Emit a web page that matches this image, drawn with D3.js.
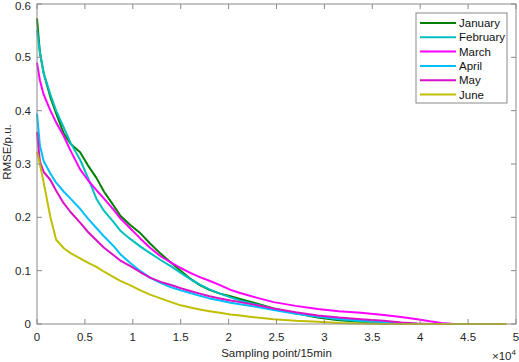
<!DOCTYPE html>
<html>
<head>
<meta charset="utf-8">
<script src="https://cdn.jsdelivr.net/npm/d3@7"></script>
<style>
body{margin:0;background:#fff;}
svg{display:block;font-family:"Liberation Sans",Arial,sans-serif;}
</style>
</head>
<body>
<div id="chart"></div>
<script>
(function(){

// sampling point (x 10^4)
const xs = [0,0.03,0.07,0.14,0.2,0.28,0.35,0.45,0.53,0.62,0.7,0.8,0.87,0.97,1.08,1.18,1.29,1.4,1.5,1.6,1.7,1.8,1.91,2.02,2.12,2.3,2.47,2.7,2.93,3.15,3.38,3.62,3.8,3.97,4.1,4.22,4.35,4.5,4.9];

const months = ["January","February","March","April","May","June"];
const colors = ["#008000","#00bfbf","#ff00ff","#00bfff","#dc10c8","#bfbf00"];

const january  = [0.573,0.51,0.47,0.425,0.395,0.357,0.338,0.322,0.298,0.274,0.248,0.222,0.203,0.186,0.17,0.151,0.132,0.115,0.1,0.085,0.073,0.064,0.057,0.052,0.047,0.038,0.029,0.02,0.012,0.007,0.004,0.001,0,0,0,0,0,0,null];
const february = [0.551,0.51,0.47,0.43,0.4,0.368,0.34,0.308,0.275,0.235,0.212,0.191,0.175,0.16,0.145,0.133,0.12,0.108,0.096,0.084,0.074,0.065,0.057,0.05,0.044,0.036,0.028,0.02,0.014,0.009,0.005,0.002,0,0,0,0,0,0,null];
const march    = [0.49,0.457,0.43,0.4,0.378,0.352,0.325,0.29,0.27,0.251,0.235,0.214,0.198,0.18,0.16,0.143,0.127,0.115,0.105,0.096,0.088,0.081,0.073,0.064,0.058,0.049,0.041,0.034,0.028,0.024,0.021,0.017,0.013,0.009,0.005,0.002,0,0,null];
const april    = [0.395,0.335,0.305,0.282,0.265,0.248,0.235,0.216,0.198,0.18,0.164,0.146,0.131,0.115,0.099,0.087,0.077,0.069,0.063,0.058,0.053,0.048,0.044,0.04,0.037,0.032,0.026,0.019,0.014,0.01,0.007,0.004,0.002,0,0,0,0,0,null];
const may      = [0.36,0.305,0.285,0.27,0.25,0.226,0.21,0.19,0.173,0.157,0.143,0.129,0.119,0.109,0.097,0.087,0.079,0.073,0.067,0.062,0.057,0.052,0.048,0.044,0.041,0.035,0.029,0.022,0.016,0.012,0.009,0.006,0.003,0.001,0,0,0,0,null];
const june     = [0.323,0.3,0.265,0.2,0.158,0.142,0.133,0.123,0.115,0.107,0.098,0.088,0.081,0.073,0.063,0.055,0.048,0.041,0.035,0.031,0.027,0.024,0.021,0.018,0.016,0.012,0.009,0.006,0.004,0.002,0.001,0,0,0,0,0,0,0,0];

const series = [january,february,march,april,may,june];

const xTicks = [0,0.5,1,1.5,2,2.5,3,3.5,4,4.5,5];
const yTicks = [0,0.1,0.2,0.3,0.4,0.5,0.6];

const width = 519, height = 362;
const left = 37, right = 516, top = 4, bottom = 324;

const svg = d3.select("#chart").append("svg")
.attr("width",width).attr("height",height);

const x = d3.scaleLinear().domain([0,5]).range([left,right]);
const y = d3.scaleLinear().domain([0,0.6]).range([bottom,top]);

const axisColor = "#8a8a8a";
const textColor = "#262626";
const fs = "11.5px";

// lines
const line = d3.line()
.defined(d => d[1] !== null)
.x(d => x(d[0]))
.y(d => y(d[1]));

svg.append("g").selectAll("path")
.data(series)
.enter()
.append("path")
.attr("d", s => line(s.map((v,i) => [xs[i], v])))
.attr("fill","none")
.attr("stroke",(s,i) => colors[i])
.attr("stroke-width",2)
.attr("stroke-linejoin","round");

// box + axes
svg.append("rect")
.attr("x",left).attr("y",top)
.attr("width",right-left).attr("height",bottom-top)
.attr("fill","none").attr("stroke",axisColor).attr("stroke-width",1);

const tk = 5;
const ticks = svg.append("g").attr("stroke",axisColor);
xTicks.forEach(t => {
  ticks.append("line").attr("x1",x(t)).attr("x2",x(t)).attr("y1",bottom).attr("y2",bottom-tk);
  ticks.append("line").attr("x1",x(t)).attr("x2",x(t)).attr("y1",top).attr("y2",top+tk);
});
yTicks.forEach(t => {
  ticks.append("line").attr("x1",left).attr("x2",left+tk).attr("y1",y(t)).attr("y2",y(t));
  ticks.append("line").attr("x1",right).attr("x2",right-tk).attr("y1",y(t)).attr("y2",y(t));
});

svg.append("g").selectAll("text")
.data(xTicks)
.enter()
.append("text")
.attr("x",d => x(d))
.attr("y",bottom+17)
.attr("text-anchor","middle")
.attr("font-size",fs)
.attr("fill",textColor)
.text(d => d);

svg.append("g").selectAll("text")
.data(yTicks)
.enter()
.append("text")
.attr("x",left-6)
.attr("y",d => Math.max(y(d)+4, 9.5))
.attr("text-anchor","end")
.attr("font-size",fs)
.attr("fill",textColor)
.text(d => d);

// axis labels
svg.append("text")
.attr("x",(left+right)/2)
.attr("y",357)
.attr("text-anchor","middle")
.attr("font-size",fs)
.attr("fill",textColor)
.text("Sampling point/15min");

svg.append("text")
.attr("transform","translate(11,152) rotate(-90)")
.attr("text-anchor","middle")
.attr("font-size",fs)
.attr("fill",textColor)
.text("RMSE/p.u.");

const exp = svg.append("text")
.attr("x",492)
.attr("y",360)
.attr("font-size",fs)
.attr("fill",textColor);
exp.append("tspan").text("\u00d710");
exp.append("tspan").attr("dy",-5).attr("font-size","8px").text("4");

// legend
const legend = svg.append("g").attr("transform","translate(416,13)");
legend.append("rect")
.attr("width",91).attr("height",90)
.attr("fill","#fff").attr("stroke",axisColor);

legend.selectAll("line")
.data(months)
.enter()
.append("line")
.attr("x1",4).attr("x2",40)
.attr("y1",(d,i) => 10 + i*14.3)
.attr("y2",(d,i) => 10 + i*14.3)
.attr("stroke",(d,i) => colors[i])
.attr("stroke-width",2);

legend.selectAll("text")
.data(months)
.enter()
.append("text")
.attr("x",43)
.attr("y",(d,i) => 14 + i*14.3)
.attr("font-size",fs)
.attr("fill","#111")
.text(d => d);

})();
</script>
</body>
</html>
